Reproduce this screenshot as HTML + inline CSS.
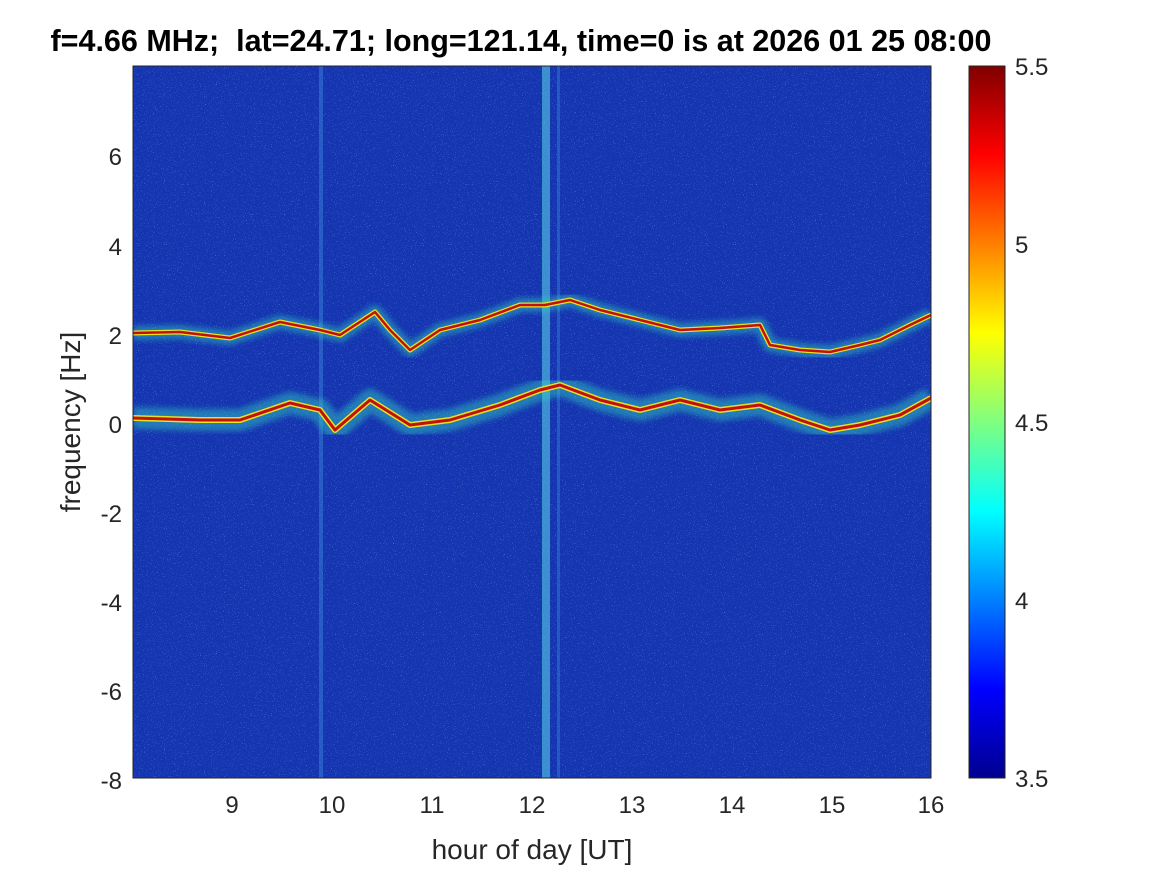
<!DOCTYPE html>
<html><head><style>
body{margin:0;background:#fff;width:1167px;height:875px;overflow:hidden;font-family:"Liberation Sans",sans-serif}
</style></head><body>
<svg width="1167" height="875" xmlns="http://www.w3.org/2000/svg" font-family="Liberation Sans, sans-serif">
<defs>
<filter id="n" x="0" y="0" width="100%" height="100%">
<feTurbulence type="fractalNoise" baseFrequency="0.9" numOctaves="2" seed="3"/>
<feColorMatrix type="matrix" values="0 0 0 0 0.3  0 0 0 0 0.6  0 0 0 0 1  0 0 0 3.5 -2.2"/>
</filter>
<filter id="b"><feGaussianBlur stdDeviation="3"/></filter>
<linearGradient id="jet" x1="0" y1="1" x2="0" y2="0">
<stop offset="0" stop-color="#00008f"/><stop offset="0.125" stop-color="#0000ff"/>
<stop offset="0.375" stop-color="#00ffff"/><stop offset="0.625" stop-color="#ffff00"/>
<stop offset="0.875" stop-color="#ff0000"/><stop offset="1" stop-color="#800000"/>
</linearGradient>
<clipPath id="c"><rect x="133" y="66" width="798" height="712"/></clipPath>
</defs>
<g clip-path="url(#c)">
<rect x="133" y="66" width="798" height="712" fill="#1434b0"/>
<rect x="133" y="66" width="798" height="712" filter="url(#n)" opacity="0.7"/>
<rect x="319" y="66" width="4" height="712" fill="#3c8ce0" opacity="0.45"/>
<rect x="542" y="66" width="8" height="712" fill="#50c0e0" opacity="0.65"/>
<rect x="557" y="66" width="3" height="712" fill="#3c8ce0" opacity="0.4"/>
<g fill="none" stroke-linejoin="round">
<polyline points="133,333 180,332 230,338 280,322 320,330 340,335 375,312 390,330 410,350 440,330 480,320 520,305 545,305 570,300 600,310 640,320 680,330 720,328 760,325 770,345 800,350 830,352 860,345 880,340 910,325 931,315" stroke="#30d0c0" stroke-width="14" opacity="0.45" filter="url(#b)"/>
<polyline points="133,418 200,420 240,420 290,403 320,410 335,430 370,400 410,425 450,420 500,405 540,390 560,385 600,400 640,410 680,400 720,410 760,405 800,420 830,430 860,425 900,415 931,398" stroke="#30d0c0" stroke-width="22" opacity="0.45" filter="url(#b)"/>
<polyline points="133,333 180,332 230,338 280,322 320,330 340,335 375,312 390,330 410,350 440,330 480,320 520,305 545,305 570,300 600,310 640,320 680,330 720,328 760,325 770,345 800,350 830,352 860,345 880,340 910,325 931,315" stroke="#e8e020" stroke-width="5"/>
<polyline points="133,418 200,420 240,420 290,403 320,410 335,430 370,400 410,425 450,420 500,405 540,390 560,385 600,400 640,410 680,400 720,410 760,405 800,420 830,430 860,425 900,415 931,398" stroke="#e8e020" stroke-width="6"/>
<polyline points="133,333 180,332 230,338 280,322 320,330 340,335 375,312 390,330 410,350 440,330 480,320 520,305 545,305 570,300 600,310 640,320 680,330 720,328 760,325 770,345 800,350 830,352 860,345 880,340 910,325 931,315" stroke="#c01010" stroke-width="2.5"/>
<polyline points="133,418 200,420 240,420 290,403 320,410 335,430 370,400 410,425 450,420 500,405 540,390 560,385 600,400 640,410 680,400 720,410 760,405 800,420 830,430 860,425 900,415 931,398" stroke="#c01010" stroke-width="3"/>
</g>
</g>
<rect x="133" y="66" width="798" height="712" fill="none" stroke="#262626" stroke-width="1"/>
<g font-size="24" fill="#262626" text-anchor="middle">
<text x="232" y="813">9</text><text x="332" y="813">10</text><text x="432" y="813">11</text><text x="532" y="813">12</text><text x="632" y="813">13</text><text x="732" y="813">14</text><text x="832" y="813">15</text><text x="931" y="813">16</text>
</g>
<g font-size="24" fill="#262626" text-anchor="end">
<text x="122" y="165">6</text><text x="122" y="255">4</text><text x="122" y="344">2</text><text x="122" y="433">0</text><text x="122" y="522">-2</text><text x="122" y="611">-4</text><text x="122" y="700">-6</text><text x="122" y="789">-8</text>
</g>
<text x="532" y="859" font-size="28" fill="#262626" text-anchor="middle">hour of day [UT]</text>
<text transform="translate(80,422) rotate(-90)" font-size="28" fill="#262626" text-anchor="middle">frequency [Hz]</text>
<text x="521" y="51" font-size="30.5" font-weight="bold" text-anchor="middle" fill="#000" xml:space="preserve" style="white-space:pre">f=4.66 MHz;  lat=24.71; long=121.14, time=0 is at 2026 01 25 08:00</text>
<rect x="969" y="66" width="36" height="712" fill="url(#jet)" stroke="#262626" stroke-width="1"/>
<g font-size="24" fill="#262626">
<text x="1015" y="75">5.5</text><text x="1015" y="253">5</text><text x="1015" y="431">4.5</text><text x="1015" y="609">4</text><text x="1015" y="787">3.5</text>
</g>
</svg>
</body></html>
